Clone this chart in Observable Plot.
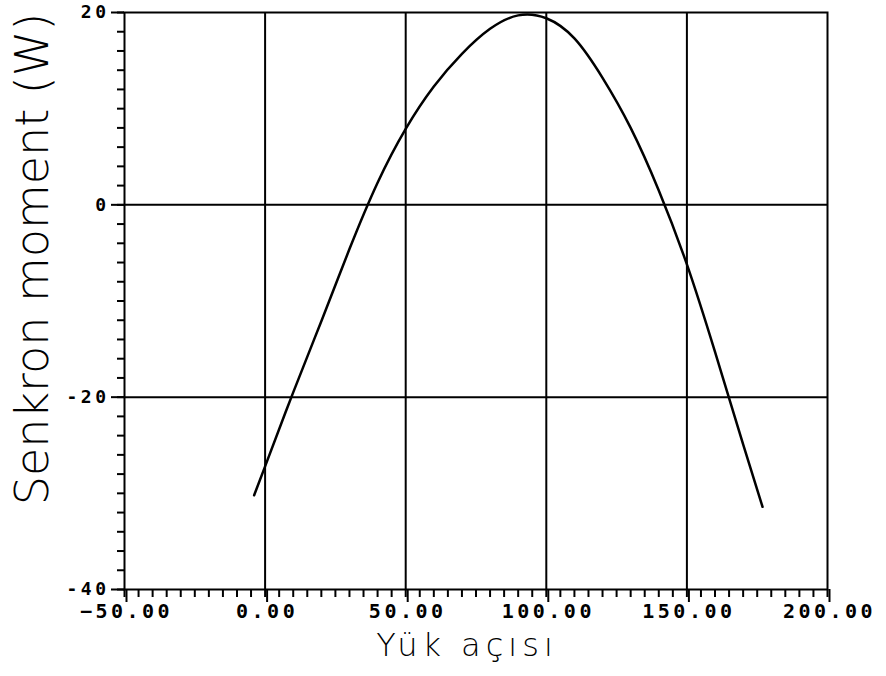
<!DOCTYPE html>
<html>
<head>
<meta charset="utf-8">
<script src="https://cdn.jsdelivr.net/npm/d3@7"></script>
<script src="https://cdn.jsdelivr.net/npm/@observablehq/plot@0.6"></script>
<style>
  html, body { margin: 0; padding: 0; background: #fff; }
  g[aria-label="x-axis tick label"] text, g[aria-label="y-axis tick label"] text { letter-spacing: 3.5px; }
</style>
</head>
<body>
<div id="chart"></div>
<script>
// Curve: load angle (x) vs synchronous torque (y)
const loadAngle = [-3.9, 0, 10, 20, 30, 40, 50, 60, 70, 80, 90, 100, 110, 120, 130, 140, 150, 160, 170, 176.9];
const torque    = [-30.2, -27.2, -19.5, -12.1, -4.6, 2.3, 7.9, 12.3, 15.7, 18.3, 19.7, 19.4, 17.3, 13.2, 8.0, 1.5, -6.2, -15.3, -24.9, -31.4];

const xTicks = [-50, 0, 50, 100, 150, 200];
const yTicks = [-40, -20, 0, 20];
const xGrid = [0, 50, 100, 150];
const yGrid = [-20, 0];
const xMinorStep = 5;
const yMinorStep = 2;
const xTitle = "Yük açısı";
const yTitle = "Senkron moment (W)";

const data = loadAngle.map((x, i) => ({x, y: torque[i]}));
const xMinor = d3.range(-50, 200 + 1e-9, xMinorStep);
const yMinor = d3.range(-40, 20 + 1e-9, yMinorStep);

const tickFont = "DejaVu Sans Mono";
const titleFont = "DejaVu Sans";

const chart = Plot.plot({
  width: 886,
  height: 676,
  marginLeft: 124,
  marginRight: 59,
  marginTop: 12,
  marginBottom: 87,
  x: {domain: [-50, 200]},
  y: {domain: [-40, 20]},
  style: {background: "transparent", color: "black"},
  marks: [
    Plot.gridX(xGrid, {stroke: "black", strokeOpacity: 1, strokeWidth: 2}),
    Plot.gridY(yGrid, {stroke: "black", strokeOpacity: 1, strokeWidth: 2}),
    Plot.frame({stroke: "black", strokeWidth: 2}),
    Plot.axisX({ticks: xMinor, tickSize: 8, strokeWidth: 2, tickFormat: () => "", label: null}),
    Plot.axisY({ticks: yMinor, tickSize: 7, strokeWidth: 2, tickFormat: () => "", label: null}),
    Plot.axisX({ticks: xTicks, tickSize: 13, strokeWidth: 2, tickPadding: 1, tickFormat: d3.format(".2f"),
      label: null, fontFamily: tickFont, fontSize: 20, fontWeight: "bold", dx: 2}),
    Plot.axisY({ticks: yTicks, tickSize: 13, strokeWidth: 2, tickPadding: 2, tickFormat: d => String(d),
      label: null, fontFamily: tickFont, fontSize: 18, fontWeight: "bold"}),
    Plot.line(data, {x: "x", y: "y", stroke: "black", strokeWidth: 2.5, curve: "natural"}),
    Plot.text([xTitle], {frameAnchor: "bottom", dx: -9, dy: 56, lineAnchor: "middle", textAnchor: "middle",
      fontFamily: titleFont, fontSize: 32, fontWeight: 300, fill: "black"}),
    Plot.text([yTitle], {frameAnchor: "left", dx: -91, dy: -42, rotate: -90, lineAnchor: "middle", textAnchor: "middle",
      fontFamily: titleFont, fontSize: 46, fontWeight: 300, fill: "black"})
  ]
});

d3.select(chart).selectAll("text").filter(function() { return this.textContent === xTitle; })
  .style("letter-spacing", "5px");

document.getElementById("chart").appendChild(chart);
</script>
</body>
</html>
